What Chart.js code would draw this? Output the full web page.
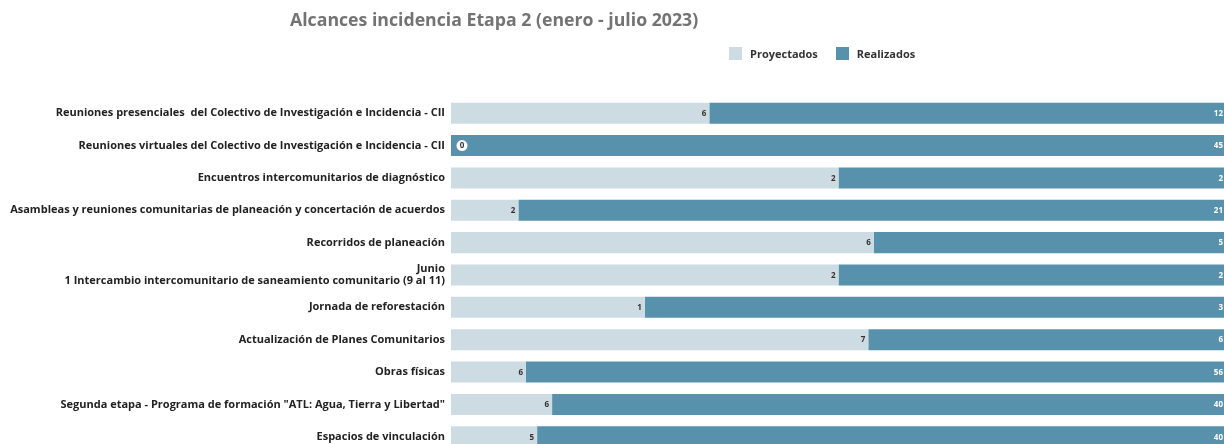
<!DOCTYPE html>
<html>
<head>
<meta charset="utf-8">
<script src="https://cdn.jsdelivr.net/npm/chart.js@4/dist/chart.umd.min.js"></script>
<style>
  body { margin: 0; overflow: hidden; background: #fff; font-family: "Open Sans", sans-serif; }
  #wrap { position: relative; width: 1228px; height: 465px; }
  #title { position: absolute; left: 290px; top: 7px; font-size: 17.7px; font-weight: bold; color: #737373; white-space: nowrap; }
  #legend { position: absolute; left: 729px; top: 46px; display: flex; font-size: 11px; font-weight: bold; color: #333; }
  #legend span.item { display: flex; align-items: center; margin-right: 18px; }
  #legend span.box { display: inline-block; width: 13px; height: 13px; margin-right: 8px; }
</style>
</head>
<body>
<div id="wrap">
  <div id="title">Alcances incidencia Etapa 2 (enero - julio 2023)</div>
  <div id="legend"></div>
  <canvas id="myChart" width="1228" height="465"></canvas>
</div>
<script>
const categories = [
  'Reuniones presenciales  del Colectivo de Investigación e Incidencia - CII',
  'Reuniones virtuales del Colectivo de Investigación e Incidencia - CII',
  'Encuentros intercomunitarios de diagnóstico',
  'Asambleas y reuniones comunitarias de planeación y concertación de acuerdos',
  'Recorridos de planeación',
  ['Junio', '1 Intercambio intercomunitario de saneamiento comunitario (9 al 11)'],
  'Jornada de reforestación',
  'Actualización de Planes Comunitarios',
  'Obras físicas',
  'Segunda etapa - Programa de formación "ATL: Agua, Tierra y Libertad"',
  'Espacios de vinculación'
]
const proyectados = [6, 0, 2, 2, 6, 2, 1, 7, 6, 6, 5]
const realizados = [12, 45, 2, 21, 5, 2, 3, 6, 56, 40, 40]
const seriesNames = ['Proyectados', 'Realizados']
const seriesColors = ['#cddce2', '#5891ab']
const labelColors = ['#333333', '#ffffff']

// 100% stacked: share of each row
const totals = proyectados.map((p, i) => p + realizados[i])
const pctProy = proyectados.map((p, i) => p / totals[i] * 100)
const pctReal = realizados.map((r, i) => r / totals[i] * 100)
const rawValues = [proyectados, realizados]

const valueLabels = {
  id: 'valueLabels',
  afterDatasetsDraw(chart) {
    const ctx = chart.ctx
    ctx.save()
    ctx.font = 'bold 8px "Open Sans", sans-serif'
    ctx.textBaseline = 'middle'
    chart.data.datasets.forEach((ds, di) => {
      chart.getDatasetMeta(di).data.forEach((bar, i) => {
        const v = rawValues[di][i]
        if (v === 0) {
          const x = bar.base + 11
          ctx.fillStyle = '#ffffff'
          ctx.beginPath()
          ctx.arc(x, bar.y, 5.5, 0, Math.PI * 2)
          ctx.fill()
          ctx.fillStyle = '#333333'
          ctx.textAlign = 'center'
          ctx.fillText(String(v), x, bar.y + 0.5)
          return
        }
        ctx.fillStyle = labelColors[di]
        ctx.textAlign = 'right'
        ctx.fillText(String(v), bar.x - 3, bar.y + 0.5)
      })
    })
    ctx.restore()
  }
}

const ctx = document.getElementById('myChart').getContext('2d')
const chart = new Chart(ctx, {
  type: 'bar',
  data: {
    labels: categories,
    datasets: [
      { label: seriesNames[0], data: pctProy, backgroundColor: seriesColors[0] },
      { label: seriesNames[1], data: pctReal, backgroundColor: seriesColors[1] }
    ]
  },
  options: {
    indexAxis: 'y',
    responsive: false,
    animation: false,
    layout: { padding: { top: 97, bottom: 8, left: 0, right: 2 } },
    datasets: { bar: { categoryPercentage: 1, barPercentage: 0.65 } },
    scales: {
      x: { stacked: true, min: 0, max: 100, display: false },
      y: {
        stacked: true,
        grid: { display: false, drawTicks: false },
        border: { display: false },
        ticks: { color: '#222', padding: 6, font: { family: '"Open Sans"', size: 11, weight: 'bold', lineHeight: 1.1 } },
        afterFit(scale) { scale.width = 451 }
      }
    },
    plugins: {
      legend: { display: false },
      tooltip: { enabled: false }
    }
  },
  plugins: [valueLabels]
})

// html legend from the datasets
const legendEl = document.getElementById('legend')
chart.data.datasets.forEach(ds => {
  const item = document.createElement('span')
  item.className = 'item'
  item.innerHTML = `<span class="box" style="background:${ds.backgroundColor}"></span>${ds.label}`
  legendEl.appendChild(item)
})
</script>
</body>
</html>
